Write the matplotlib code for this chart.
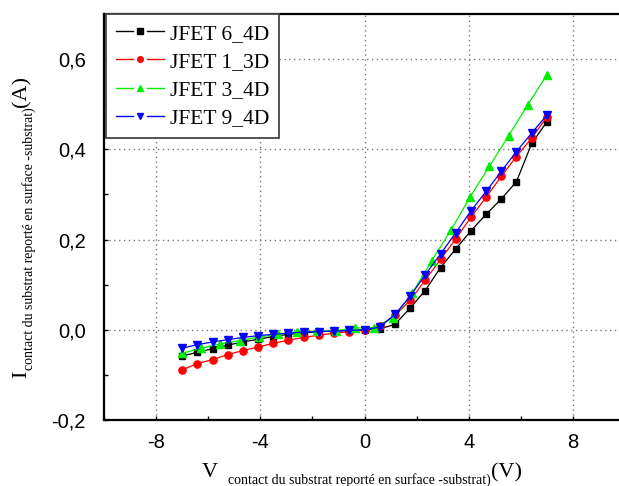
import matplotlib
matplotlib.use("Agg")
import matplotlib.pyplot as plt
from matplotlib.lines import Line2D
from matplotlib.legend_handler import HandlerBase
from matplotlib.ticker import FixedLocator, MultipleLocator

# ---- data ----
v_common = [-7, -6.42, -5.83, -5.25, -4.67, -4.08, -3.5, -2.92, -2.33, -1.75, -1.17, -0.58,
            0, 0.58, 1.17, 1.75, 2.33, 2.92, 3.5, 4.08, 4.67, 5.25, 5.83, 6.42, 7]
v_green = [-7, -6.26, -5.53, -4.79, -4.05, -3.32, -2.58, -1.84, -1.11, -0.37,
           0.37, 1.11, 1.84, 2.58, 3.32, 4.05, 4.79, 5.53, 6.26, 7]

i_jfet6_4d = [-0.058, -0.050, -0.042, -0.034, -0.027, -0.021, -0.015, -0.010, -0.007, -0.004,
              -0.003, -0.0015, 0.0, 0.002, 0.012, 0.048, 0.087, 0.138, 0.179, 0.219, 0.256,
              0.290, 0.328, 0.413, 0.461]
i_jfet1_3d = [-0.089, -0.075, -0.066, -0.055, -0.046, -0.038, -0.030, -0.023, -0.017, -0.012,
              -0.0075, -0.004, -0.001, 0.009, 0.032, 0.065, 0.110, 0.156, 0.201, 0.249, 0.294,
              0.340, 0.384, 0.425, 0.472]
i_jfet3_4d = [-0.052, -0.041, -0.031, -0.024, -0.016, -0.010, -0.0045, -0.003, -0.002, 0.004,
              0.005, 0.027, 0.082, 0.153, 0.221, 0.294, 0.362, 0.430, 0.498, 0.565]
i_jfet9_4d = [-0.041, -0.033, -0.027, -0.022, -0.017, -0.013, -0.010, -0.0075, -0.005, -0.004,
              -0.003, -0.0015, 0.0, 0.006, 0.034, 0.074, 0.122, 0.168, 0.215, 0.263, 0.307,
              0.351, 0.395, 0.436, 0.476]

labels = ["JFET 6_4D", "JFET 1_3D", "JFET 3_4D", "JFET 9_4D"]
x_ticks = [-8, -4, 0, 4, 8]
x_ticklabels = ["-8", "-4", "0", "4", "8"]
y_ticks = [-0.2, 0.0, 0.2, 0.4, 0.6]
y_ticklabels = ["-0,2", "0,0", "0,2", "0,4", "0,6"]

W, H = 619, 486
fig = plt.figure(figsize=(W / 100, H / 100), dpi=100)
ax = fig.add_axes([104 / W, 1 - 420 / H, 521 / W, 406 / H])

series = [
    (v_common, i_jfet6_4d, "black", "s", 4.6),
    (v_common, i_jfet1_3d, "red", "o", 5.2),
    (v_green, i_jfet3_4d, "#00ee00", "^", 5.2),
    (v_common, i_jfet9_4d, "blue", "v", 5.2),
]
handles = []
for (xs, ys, c, m, ms), lab in zip(series, labels):
    ln, = ax.plot(xs, ys, color=c, marker=m, ms=ms, mec=c, mfc=c, lw=0.9, label=lab)
    handles.append(ln)

ax.set_xlim(-10, 10)
ax.set_ylim(-0.2, 0.7)

ax.xaxis.set_major_locator(FixedLocator(x_ticks))
ax.set_xticklabels(x_ticklabels)
ax.yaxis.set_major_locator(FixedLocator(y_ticks))
ax.set_yticklabels(y_ticklabels)
ax.xaxis.set_minor_locator(MultipleLocator(2))
ax.yaxis.set_minor_locator(MultipleLocator(0.1))

for lab in ax.get_xticklabels() + ax.get_yticklabels():
    lab.set_family("Liberation Sans")
    lab.set_fontsize(14.5)

ax.tick_params(which="both", direction="in", length=3, width=1, top=False, right=False)
ax.tick_params(axis="y", pad=13)
ax.tick_params(axis="x", pad=9)

ax.grid(True, which="major", linestyle=(0, (1, 2.5)), color="#777777", lw=1.0)
for s in ["left", "bottom", "top", "right"]:
    ax.spines[s].set_linewidth(1.6)
    ax.spines[s].set_color("black")


class SplitHandler(HandlerBase):
    def create_artists(self, legend, orig, xdescent, ydescent, width, height, fontsize, trans):
        y = height / 2 - ydescent
        x0 = -xdescent
        c = orig.get_color()
        a = Line2D([x0, x0 + width * 0.36], [y, y], color=c, lw=1.0)
        b = Line2D([x0 + width * 0.64, x0 + width], [y, y], color=c, lw=1.0)
        mk = Line2D([x0 + width / 2], [y], color=c, marker=orig.get_marker(), ms=4.0,
                    ls="none", mfc=c, mec=c)
        for art in (a, b, mk):
            art.set_transform(trans)
        return [a, b, mk]


leg = ax.legend(handles=handles, labels=labels, loc="upper left",
                bbox_to_anchor=(2 / 521, 1.0), borderaxespad=0,
                prop={"family": "Liberation Serif", "size": 15.5},
                handler_map={Line2D: SplitHandler()},
                handlelength=2.25, handletextpad=0.28, borderpad=0.45,
                labelspacing=0.38, fancybox=False, framealpha=1)
leg.get_frame().set_edgecolor("#444444")
leg.get_frame().set_linewidth(1.3)

# ---- composite axis labels (big letter + small subscript) ----
renderer = fig.canvas.get_renderer()
SERIF = "Liberation Serif"


def text_width(s, size):
    t = fig.text(0, 0, s, fontsize=size, family=SERIF)
    w = t.get_window_extent(renderer).width
    t.remove()
    return w


def place(parts, center, base, rotation):
    widths = [text_width(s, size) for s, size, dy, gap in parts]
    total = sum(widths) + sum(p[3] for p in parts)
    pos = -total / 2
    for (s, size, dy, gap), w in zip(parts, widths):
        pos += gap
        if rotation == 0:
            px, py = center + pos, base + dy
        else:
            px, py = base + dy, center - pos
        fig.text(px / W, 1 - py / H, s, fontsize=size, family=SERIF,
                 ha="left", va="baseline", rotation=rotation, rotation_mode="anchor")
        pos += w


sub = "contact du substrat reporté en surface -substrat)"
place([("V", 16, 0, 0), (sub, 10, 7, 10), ("(V)", 16, 0, 0)], 362, 477, 0)
place([("I", 16, 0, 0), (sub, 10, 7, 1), ("(A)", 16, 0, 0)], 227, 26, 90)

fig.savefig("out.png", dpi=100)
